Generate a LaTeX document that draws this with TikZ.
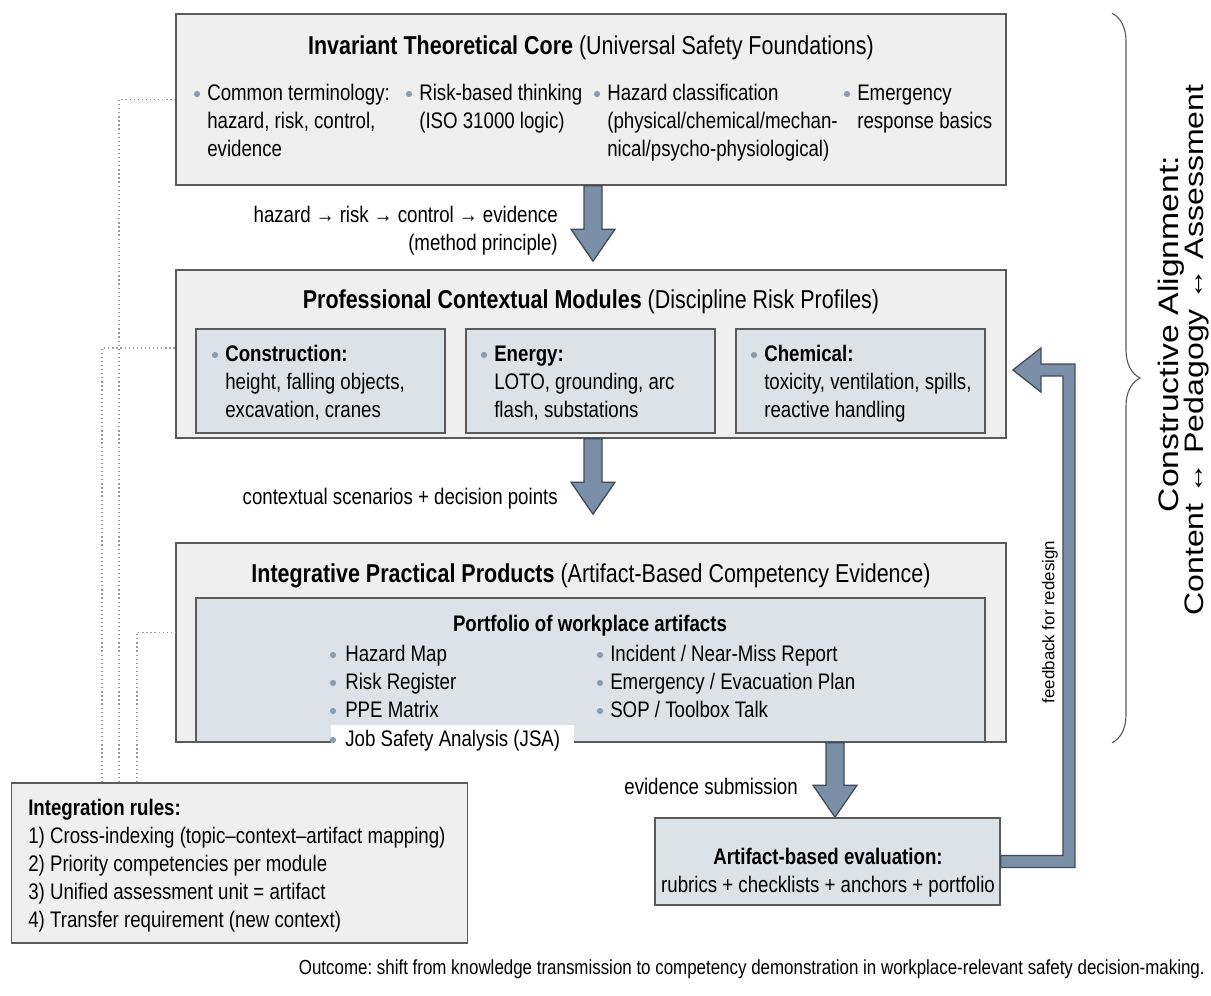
\documentclass[tikz,border=0pt]{standalone}
\usepackage{fontspec}
\setmainfont{Liberation Sans}[FakeStretch=0.83]
\newfontfamily\widefont{Liberation Sans}
\newfontfamily\sidefont{Liberation Sans}[FakeStretch=1.2]
\usepackage{tikz}
\usetikzlibrary{positioning}
\usetikzlibrary{calc}
\usetikzlibrary{decorations.pathreplacing}
\usepackage{xcolor}
\frenchspacing

\definecolor{boxgray}{HTML}{EFEFEF}
\definecolor{modblue}{HTML}{DDE2E9}
\definecolor{edgegray}{HTML}{5A5A5A}
\definecolor{arrowfill}{HTML}{7B8FA8}
\definecolor{arrowedge}{HTML}{3E4A59}
\definecolor{dotc}{HTML}{8C9BAE}
\definecolor{linkgray}{HTML}{9A9A9A}

\newcommand{\bodyfont}{\fontsize{16pt}{19.9pt}\selectfont}
\newcommand{\titlefont}{\fontsize{18.4pt}{22pt}\selectfont}
\newcommand{\outfont}{\fontsize{14.5pt}{16pt}\selectfont}

% big block arrow pointing down, from #1 to #2 (same x)
\newcommand{\bigdown}[2]{%
\draw[bigarrow] ($(#1)+(-9,0)$) -- ($(#2)+(-9,-32)$) -- ($(#2)+(-22,-32)$) -- (#2)
  -- ($(#2)+(22,-32)$) -- ($(#2)+(9,-32)$) -- ($(#1)+(9,0)$) -- cycle;}

\begin{document}
\begin{tikzpicture}[x=0.025cm, y=-0.025cm,
  outerbox/.style={draw=edgegray, fill=boxgray, line width=1.1pt, inner sep=0pt, minimum width=20.75cm},
  subbox/.style={draw=edgegray, fill=modblue, line width=1.1pt, inner sep=0pt},
  bigarrow/.style={draw=arrowedge, fill=arrowfill, line width=0.9pt, line join=miter},
  body/.style={font=\bodyfont, inner sep=0pt, align=left, anchor=base west},
  title/.style={font=\titlefont, inner sep=0pt, anchor=base},
  link/.style={draw=linkgray, line width=0.9pt, dotted},
  side/.style={inner sep=0pt, anchor=center}]

\useasboundingbox (0,0) rectangle (1211,995);

% invariant core (multi-line nodes sit on their last baseline)
\node[outerbox, minimum height=4.275cm] (core) at (591,99.5) {};
\node[title] (coreT) at (591,54) {\textbf{Invariant Theoretical Core} (Universal Safety Foundations)};

\node[body] (c1) at (207,156) {Common terminology:\\hazard, risk, control,\\evidence};
\node[body] (c2) at (419,128) {Risk-based thinking\\(ISO 31000 logic)};
\node[body] (c3) at (607,156) {Hazard classification\\(physical/chemical/mechan-\\nical/psycho-physiological)};
\node[body] (c4) at (857,128) {Emergency\\response basics};

\fill[dotc] (197,94) circle [radius=2.2pt];
\fill[dotc] (409,94) circle [radius=2.2pt];
\fill[dotc] (597,94) circle [radius=2.2pt];
\fill[dotc] (847,94) circle [radius=2.2pt];

% contextual modules
\node[outerbox, minimum height=4.2cm] (modules) at (591,354) {};
\node[title] (modT) at (591,308) {\textbf{Professional Contextual Modules} (Discipline Risk Profiles)};

\node[subbox, minimum width=6.225cm, minimum height=2.6cm] (constr) at (320.5,381) {};
\node[subbox, minimum width=6.225cm, minimum height=2.6cm] (energy) at (590.5,381) {};
\node[subbox, minimum width=6.225cm, minimum height=2.6cm] (chem) at (860.5,381) {};

\node[body] (m1) at (225,417) {\textbf{Construction:}\\height, falling objects,\\excavation, cranes};
\node[body] (m2) at (494,417) {\textbf{Energy:}\\LOTO, grounding, arc\\flash, substations};
\node[body] (m3) at (764,417) {\textbf{Chemical:}\\toxicity, ventilation, spills,\\reactive handling};

\fill[dotc] (215,355) circle [radius=2.2pt];
\fill[dotc] (484,355) circle [radius=2.2pt];
\fill[dotc] (754,355) circle [radius=2.2pt];

% practical products
\node[outerbox, minimum height=4.975cm] (products) at (591,642.5) {};
\node[title] (prodT) at (591,582) {\textbf{Integrative Practical Products} (Artifact-Based Competency Evidence)};
\node[subbox, minimum width=19.725cm, minimum height=3.6cm] (portf) at (590.5,670) {};
\node[body, anchor=base, font=\bodyfont\bfseries] (portT) at (590,631) {Portfolio of workplace artifacts};

\node[body] (p1) at (345,717) {Hazard Map\\Risk Register\\PPE Matrix};
\node[body, fill=white, inner xsep=10pt, inner ysep=3pt] (p4) at (331,746) {Job Safety Analysis (JSA)};
\node[body] (p5) at (610,717) {Incident / Near-Miss Report\\Emergency / Evacuation Plan\\SOP / Toolbox Talk};

\fill[dotc] (333,655) circle [radius=2.2pt];
\fill[dotc] (333,683) circle [radius=2.2pt];
\fill[dotc] (333,711) circle [radius=2.2pt];
\fill[dotc] (333,740) circle [radius=2.2pt];
\fill[dotc] (600,655) circle [radius=2.2pt];
\fill[dotc] (600,683) circle [radius=2.2pt];
\fill[dotc] (600,711) circle [radius=2.2pt];

% evaluation and rules
\node[subbox, minimum width=8.625cm, minimum height=2.175cm] (eval) at (827.5,861.5) {};
\node[body, anchor=base, align=center] (evalT) at (828,892) {\textbf{Artifact-based evaluation:}\\rubrics + checklists + anchors + portfolio};

\node[outerbox, minimum width=11.4cm, minimum height=4cm] (rules) at (239.5,863) {};
\node[body] (rulesT) at (28,927) {\textbf{Integration rules:}\\1) Cross-indexing (topic–context–artifact mapping)\\2) Priority competencies per module\\3) Unified assessment unit = artifact\\4) Transfer requirement (new context)};

% down arrows
\coordinate (a1s) at ($(core.south)+(2,0)$);
\coordinate (a1e) at ($(modules.north)+(2,-8)$);
\bigdown{a1s}{a1e}
\node[body, anchor=base east, align=right] (lab1) at (558,250) {hazard → risk → control → evidence\\(method principle)};

\coordinate (a2s) at ($(modules.south)+(2,0)$);
\coordinate (a2e) at ($(products.north)+(2,-28)$);
\bigdown{a2s}{a2e}
\node[body, anchor=base east] (lab2) at (558,504) {contextual scenarios + decision points};

\coordinate (a3s) at ($(products.south)+(244,0)$);
\coordinate (a3e) at (a3s |- eval.north);
\bigdown{a3s}{a3e}
\node[body, anchor=base east] (lab3) at (798,794) {evidence submission};

% feedback loop
\coordinate (fbtip) at ($(modules.east)+(6,16)$);
\draw[bigarrow] ($(eval.east)+(0,-6)$) -| ($(fbtip)+(50,6)$) -- ($(fbtip)+(28,6)$) -- ($(fbtip)+(28,22)$)
  -- (fbtip) -- ($(fbtip)+(28,-22)$) -- ($(fbtip)+(28,-6)$) -- ($(fbtip)+(62,-6)$) |- ($(eval.east)+(0,6)$) -- cycle;
\node[side, rotate=90, font=\widefont\fontsize{12pt}{14pt}\selectfont] (fbT) at (1050,622) {feedback for redesign};

% dotted links
\coordinate (lA) at (119,0);
\coordinate (lB) at (102,0);
\coordinate (lC) at (137,0);
\draw[link] (rules.north -| lA) |- (core.west);
\draw[link] (rules.north -| lB) |- ($(modules.west)+(0,-6)$);
\draw[link] (rules.north -| lC) |- ($(products.west)+(0,-10)$);

% brace
\coordinate (bx) at (1112,0);
\draw[edgegray, line width=0.8pt, decorate, decoration={brace, amplitude=0.7cm}] (core.north -| bx) -- (products.south -| bx);
\node[side, rotate=90, font=\sidefont\fontsize{20pt}{24pt}\selectfont] (caT1) at (1171,334) {Constructive Alignment:};
\node[side, rotate=90, font=\sidefont\fontsize{19pt}{24pt}\selectfont] (caT2) at (1197,350) {Content ↔ Pedagogy ↔ Assessment};

\node[body, anchor=base east, font=\outfont] (outT) at (1205,974) {Outcome: shift from knowledge transmission to competency demonstration in workplace-relevant safety decision-making.};

\end{tikzpicture}
\end{document}
